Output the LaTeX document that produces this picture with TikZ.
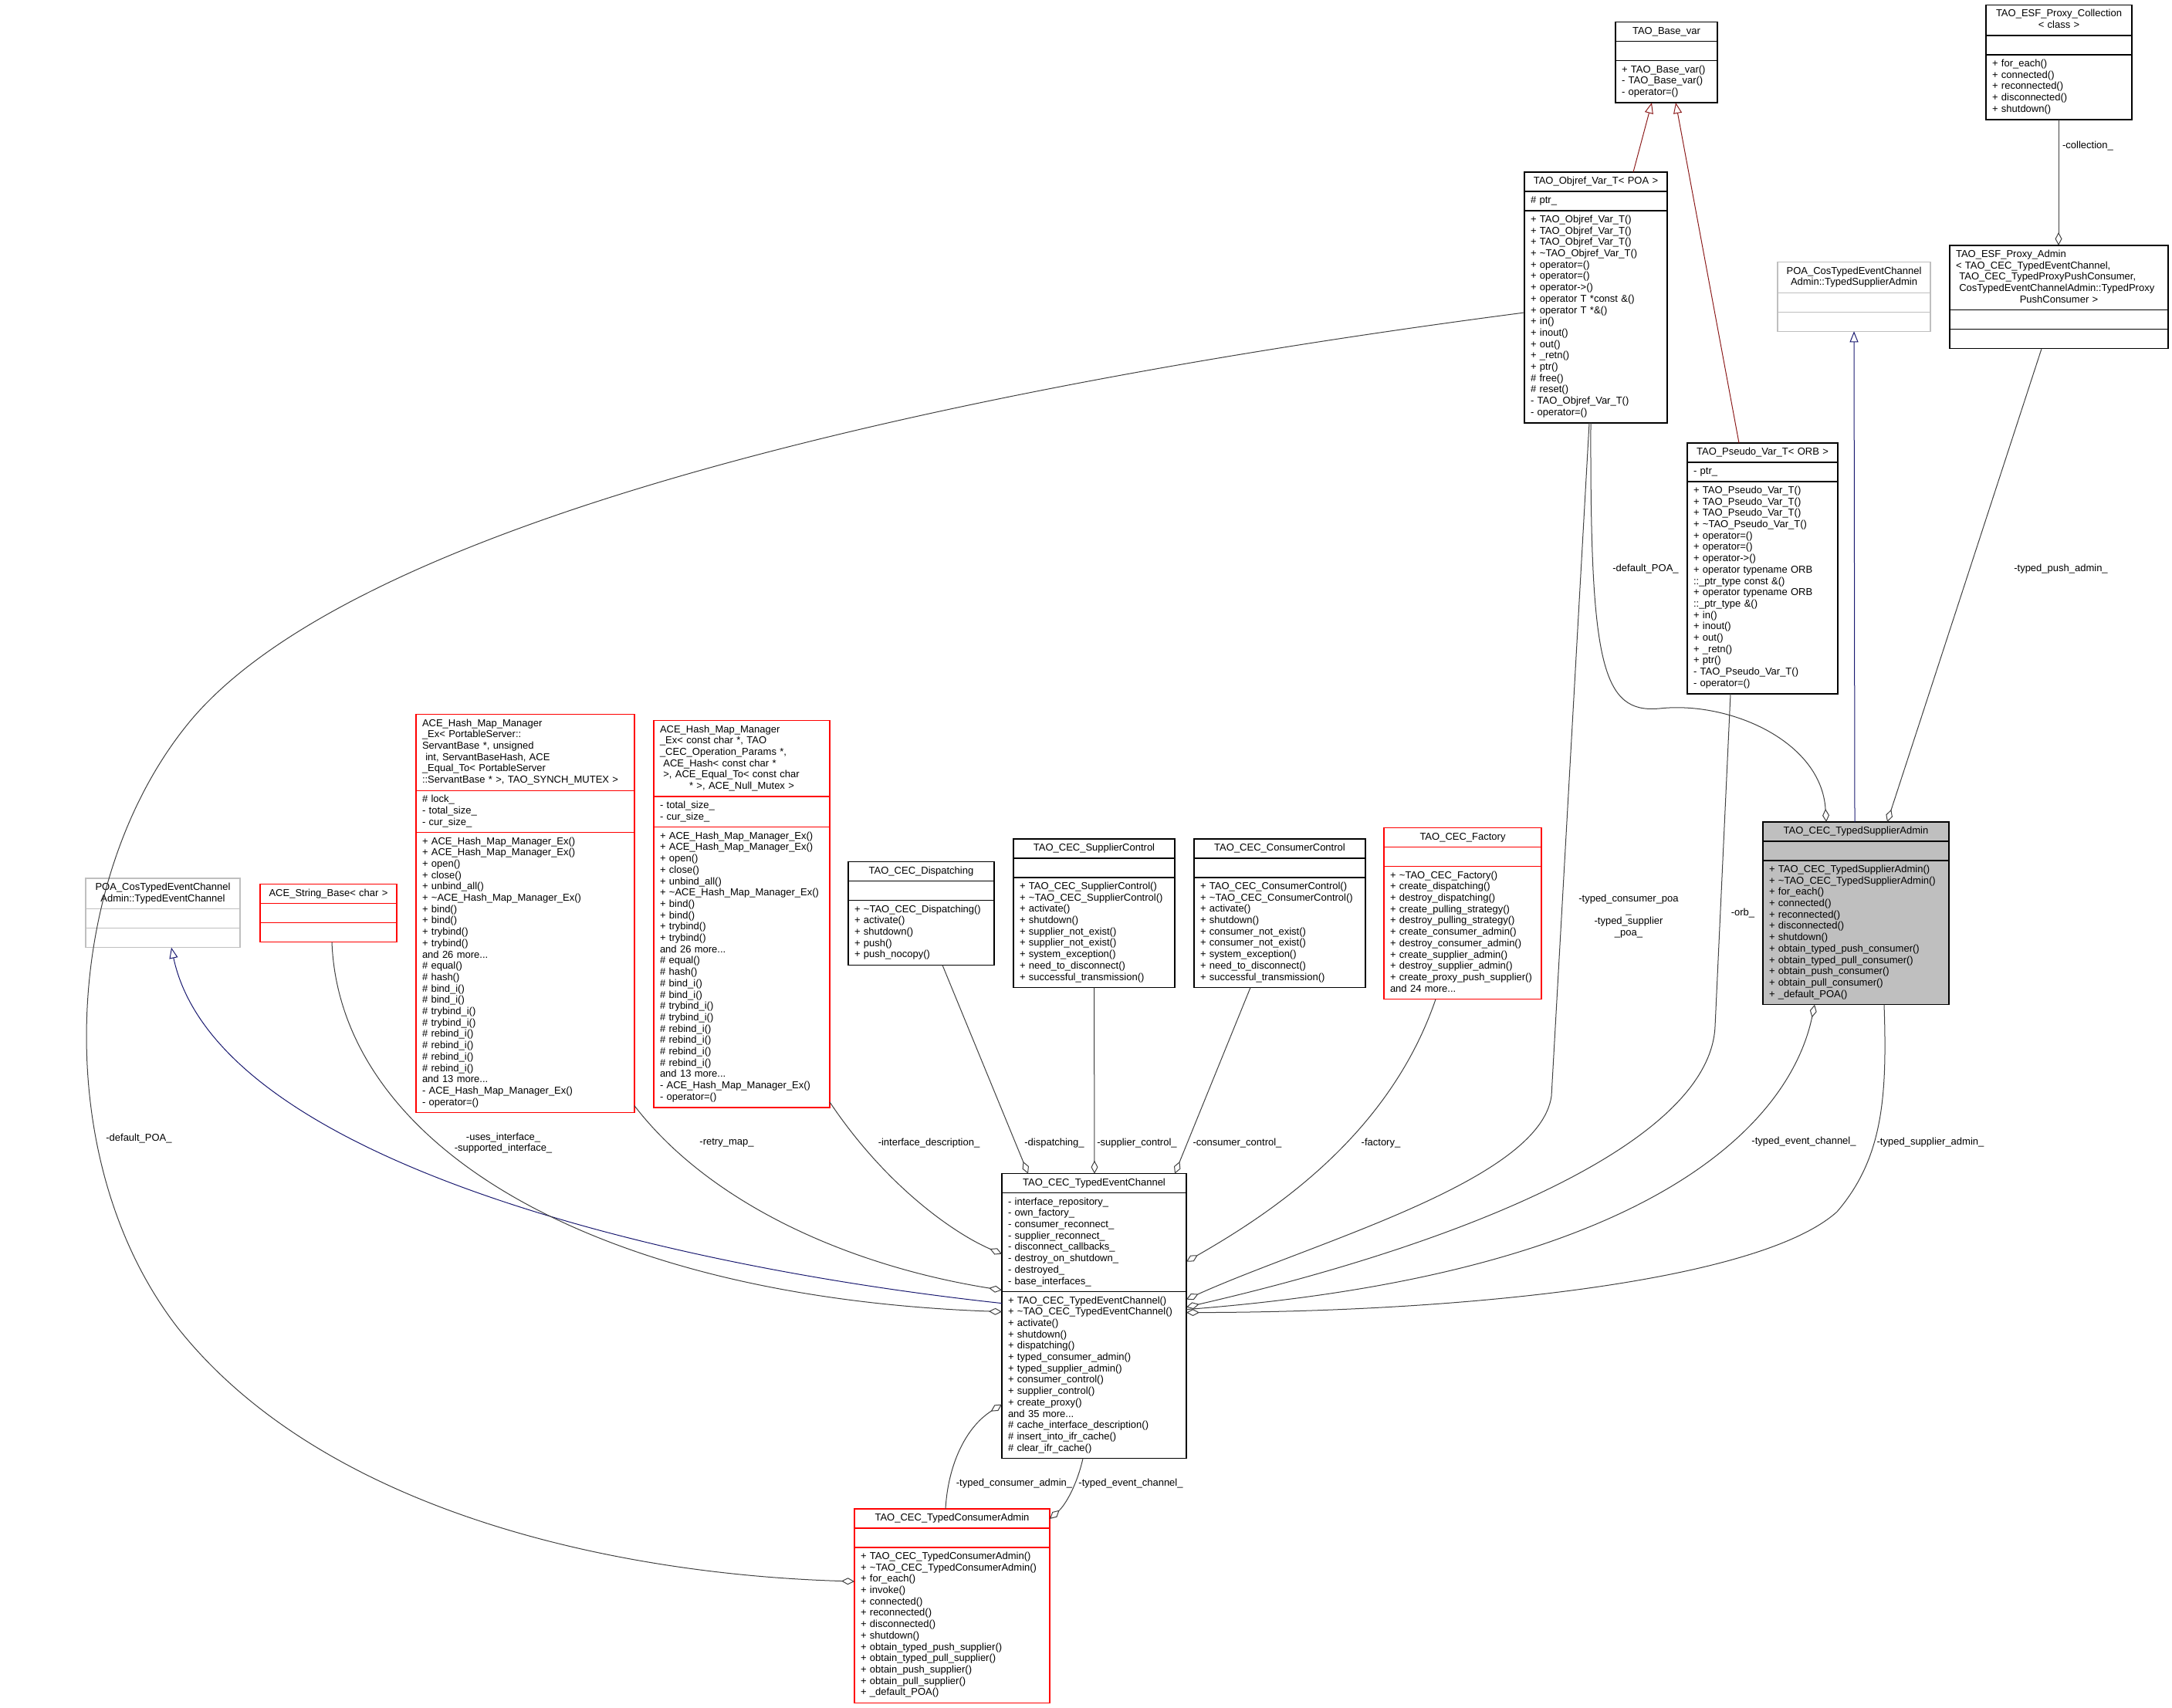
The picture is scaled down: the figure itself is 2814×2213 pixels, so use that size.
\documentclass[tikz,border=0pt]{standalone}
\usepackage{fontspec}
\setmainfont{Liberation Sans}
\usetikzlibrary{arrows.meta,calc}
\definecolor{edgegray}{HTML}{404040}
\definecolor{boxgray}{HTML}{BFBFBF}
\definecolor{inhblue}{HTML}{191970}
\definecolor{inhred}{HTML}{8B1A1A}
\begin{document}
\begin{tikzpicture}[x=1pt, y=-1pt, font=\fontsize{13}{14.7}\selectfont]
    \tikzset{%
      cpart/.style={draw, line width=1.3pt, anchor=north west, outer sep=0pt, inner xsep=8pt, inner ysep=5.15pt,
        align=left, execute at begin node=\strut, execute at end node=\strut},
      ctitle/.style={cpart, align=center},
      redbox/.style={draw=red},
      graybox/.style={draw=boxgray},
      agg/.style={draw=edgegray, line width=1pt, {Diamond[open, length=17pt, width=9pt]}-},
      pubinh/.style={draw=inhblue, line width=1pt, -{Triangle[open, length=14pt, width=11pt]}},
      privinh/.style={draw=inhred, line width=1pt, -{Triangle[open, length=14pt, width=11pt]}},
      lbl/.style={align=center, inner sep=0pt}
      }
    \useasboundingbox (0,0) rectangle (2814,2213);

    % top right
    \node [ctitle, text width=116pt] (Tbase) at (2093,28.6) {TAO\_Base\_var};
    \node [cpart, text width=116pt] (Abase) at (Tbase.south west) {};
    \node [cpart, text width=116pt] (Mbase) at (Abase.south west) {+ TAO\_Base\_var()\\- TAO\_Base\_var()\\- operator=()};

    \node [ctitle, text width=173pt] (Tcoll) at (2573,6.4) {TAO\_ESF\_Proxy\_Collection\\< class >};
    \node [cpart, text width=173pt] (Acoll) at (Tcoll.south west) {};
    \node [cpart, text width=173pt] (Mcoll) at (Acoll.south west) {+ for\_each()\\+ connected()\\+ reconnected()\\+ disconnected()\\+ shutdown()};

    \node [ctitle, text width=169pt] (Tobjref) at (1975,223) {TAO\_Objref\_Var\_T< POA >};
    \node [cpart, text width=169pt] (Aobjref) at (Tobjref.south west) {\# ptr\_};
    \node [cpart, text width=169pt] (Mobjref) at (Aobjref.south west) {+ TAO\_Objref\_Var\_T()\\+ TAO\_Objref\_Var\_T()\\+ TAO\_Objref\_Var\_T()\\+ \textasciitilde TAO\_Objref\_Var\_T()\\+ operator=()\\+ operator=()\\+ operator->()\\+ operator T *const \&()\\+ operator T *\&()\\+ in()\\+ inout()\\+ out()\\+ \_retn()\\+ ptr()\\\# free()\\\# reset()\\- TAO\_Objref\_Var\_T()\\- operator=()};

    \node [ctitle, graybox, text width=182pt] (Tpoatsa) at (2303,339.6) {POA\_CosTypedEventChannel\\Admin::TypedSupplierAdmin};
    \node [cpart, graybox, text width=182pt] (Apoatsa) at (Tpoatsa.south west) {};
    \node [cpart, graybox, text width=182pt] (Mpoatsa) at (Apoatsa.south west) {};

    \node [cpart, text width=267pt] (Tproxyadmin) at (2526,318) {TAO\_ESF\_Proxy\_Admin\\< TAO\_CEC\_TypedEventChannel,\\\ TAO\_CEC\_TypedProxyPushConsumer,\\\ CosTypedEventChannelAdmin::TypedProxy\\\makebox[\linewidth][c]{PushConsumer >}};
    \node [cpart, text width=267pt] (Aproxyadmin) at (Tproxyadmin.south west) {};
    \node [cpart, text width=267pt] (Mproxyadmin) at (Aproxyadmin.south west) {};

    \node [ctitle, text width=179pt] (Tpseudo) at (2186,574) {TAO\_Pseudo\_Var\_T< ORB >};
    \node [cpart, text width=179pt] (Apseudo) at (Tpseudo.south west) {- ptr\_};
    \node [cpart, text width=179pt] (Mpseudo) at (Apseudo.south west) {+ TAO\_Pseudo\_Var\_T()\\+ TAO\_Pseudo\_Var\_T()\\+ TAO\_Pseudo\_Var\_T()\\+ \textasciitilde TAO\_Pseudo\_Var\_T()\\+ operator=()\\+ operator=()\\+ operator->()\\+ operator typename ORB\\::\_ptr\_type const \&()\\+ operator typename ORB\\::\_ptr\_type \&()\\+ in()\\+ inout()\\+ out()\\+ \_retn()\\+ ptr()\\- TAO\_Pseudo\_Var\_T()\\- operator=()};

    \node [ctitle, fill=boxgray, text width=225pt] (Ttsa) at (2284,1065) {TAO\_CEC\_TypedSupplierAdmin};
    \node [cpart, fill=boxgray, text width=225pt] (Atsa) at (Ttsa.south west) {};
    \node [cpart, fill=boxgray, text width=225pt] (Mtsa) at (Atsa.south west) {+ TAO\_CEC\_TypedSupplierAdmin()\\+ \textasciitilde TAO\_CEC\_TypedSupplierAdmin()\\+ for\_each()\\+ connected()\\+ reconnected()\\+ disconnected()\\+ shutdown()\\+ obtain\_typed\_push\_consumer()\\+ obtain\_typed\_pull\_consumer()\\+ obtain\_push\_consumer()\\+ obtain\_pull\_consumer()\\+ \_default\_POA()};

    % middle row
    \node [cpart, redbox, text width=267pt] (Taceleft) at (539,925.7) {ACE\_Hash\_Map\_Manager\\\_Ex< PortableServer::\\ServantBase *, unsigned\\\ int, ServantBaseHash, ACE\\\_Equal\_To< PortableServer\\::ServantBase * >, TAO\_SYNCH\_MUTEX >};
    \node [cpart, redbox, text width=267pt] (Aaceleft) at (Taceleft.south west) {\# lock\_\\- total\_size\_\\- cur\_size\_};
    \node [cpart, redbox, text width=267pt] (Maceleft) at (Aaceleft.south west) {+ ACE\_Hash\_Map\_Manager\_Ex()\\+ ACE\_Hash\_Map\_Manager\_Ex()\\+ open()\\+ close()\\+ unbind\_all()\\+ \textasciitilde ACE\_Hash\_Map\_Manager\_Ex()\\+ bind()\\+ bind()\\+ trybind()\\+ trybind()\\and 26 more...\\\# equal()\\\# hash()\\\# bind\_i()\\\# bind\_i()\\\# trybind\_i()\\\# trybind\_i()\\\# rebind\_i()\\\# rebind\_i()\\\# rebind\_i()\\\# rebind\_i()\\and 13 more...\\- ACE\_Hash\_Map\_Manager\_Ex()\\- operator=()};

    \node [cpart, redbox, text width=212pt] (Taceright) at (847,933.6) {ACE\_Hash\_Map\_Manager\\\_Ex< const char *, TAO\\\_CEC\_Operation\_Params *,\\\ ACE\_Hash< const char *\\\ >, ACE\_Equal\_To< const char\\\makebox[\linewidth][c]{* >, ACE\_Null\_Mutex >}};
    \node [cpart, redbox, text width=212pt] (Aaceright) at (Taceright.south west) {- total\_size\_\\- cur\_size\_};
    \node [cpart, redbox, text width=212pt] (Maceright) at (Aaceright.south west) {+ ACE\_Hash\_Map\_Manager\_Ex()\\+ ACE\_Hash\_Map\_Manager\_Ex()\\+ open()\\+ close()\\+ unbind\_all()\\+ \textasciitilde ACE\_Hash\_Map\_Manager\_Ex()\\+ bind()\\+ bind()\\+ trybind()\\+ trybind()\\and 26 more...\\\# equal()\\\# hash()\\\# bind\_i()\\\# bind\_i()\\\# trybind\_i()\\\# trybind\_i()\\\# rebind\_i()\\\# rebind\_i()\\\# rebind\_i()\\\# rebind\_i()\\and 13 more...\\- ACE\_Hash\_Map\_Manager\_Ex()\\- operator=()};

    \node [ctitle, text width=173pt] (Tdisp) at (1099,1116.7) {TAO\_CEC\_Dispatching};
    \node [cpart, text width=173pt] (Adisp) at (Tdisp.south west) {};
    \node [cpart, text width=173pt] (Mdisp) at (Adisp.south west) {+ \textasciitilde TAO\_CEC\_Dispatching()\\+ activate()\\+ shutdown()\\+ push()\\+ push\_nocopy()};

    \node [ctitle, text width=193pt] (Tsupctl) at (1313,1087) {TAO\_CEC\_SupplierControl};
    \node [cpart, text width=193pt] (Asupctl) at (Tsupctl.south west) {};
    \node [cpart, text width=193pt] (Msupctl) at (Asupctl.south west) {+ TAO\_CEC\_SupplierControl()\\+ \textasciitilde TAO\_CEC\_SupplierControl()\\+ activate()\\+ shutdown()\\+ supplier\_not\_exist()\\+ supplier\_not\_exist()\\+ system\_exception()\\+ need\_to\_disconnect()\\+ successful\_transmission()};

    \node [ctitle, text width=206pt] (Tconctl) at (1547,1087) {TAO\_CEC\_ConsumerControl};
    \node [cpart, text width=206pt] (Aconctl) at (Tconctl.south west) {};
    \node [cpart, text width=206pt] (Mconctl) at (Aconctl.south west) {+ TAO\_CEC\_ConsumerControl()\\+ \textasciitilde TAO\_CEC\_ConsumerControl()\\+ activate()\\+ shutdown()\\+ consumer\_not\_exist()\\+ consumer\_not\_exist()\\+ system\_exception()\\+ need\_to\_disconnect()\\+ successful\_transmission()};

    \node [ctitle, redbox, text width=188pt] (Tfactory) at (1793,1072.7) {TAO\_CEC\_Factory};
    \node [cpart, redbox, text width=188pt] (Afactory) at (Tfactory.south west) {};
    \node [cpart, redbox, text width=188pt] (Mfactory) at (Afactory.south west) {+ \textasciitilde TAO\_CEC\_Factory()\\+ create\_dispatching()\\+ destroy\_dispatching()\\+ create\_pulling\_strategy()\\+ destroy\_pulling\_strategy()\\+ create\_consumer\_admin()\\+ destroy\_consumer\_admin()\\+ create\_supplier\_admin()\\+ destroy\_supplier\_admin()\\+ create\_proxy\_push\_supplier()\\and 24 more...};

    \node [ctitle, graybox, text width=184pt] (Tpoatec) at (111,1138) {POA\_CosTypedEventChannel\\Admin::TypedEventChannel};
    \node [cpart, graybox, text width=184pt] (Apoatec) at (Tpoatec.south west) {};
    \node [cpart, graybox, text width=184pt] (Mpoatec) at (Apoatec.south west) {};

    \node [ctitle, redbox, text width=161pt] (Tstrbase) at (337,1145.7) {ACE\_String\_Base< char >};
    \node [cpart, redbox, text width=161pt] (Astrbase) at (Tstrbase.south west) {};
    \node [cpart, redbox, text width=161pt] (Mstrbase) at (Astrbase.south west) {};

    % bottom
    \node [ctitle, text width=223pt] (Ttec) at (1298,1520.7) {TAO\_CEC\_TypedEventChannel};
    \node [cpart, text width=223pt] (Atec) at (Ttec.south west) {- interface\_repository\_\\- own\_factory\_\\- consumer\_reconnect\_\\- supplier\_reconnect\_\\- disconnect\_callbacks\_\\- destroy\_on\_shutdown\_\\- destroyed\_\\- base\_interfaces\_};
    \node [cpart, text width=223pt] (Mtec) at (Atec.south west) {+ TAO\_CEC\_TypedEventChannel()\\+ \textasciitilde TAO\_CEC\_TypedEventChannel()\\+ activate()\\+ shutdown()\\+ dispatching()\\+ typed\_consumer\_admin()\\+ typed\_supplier\_admin()\\+ consumer\_control()\\+ supplier\_control()\\+ create\_proxy()\\and 35 more...\\\# cache\_interface\_description()\\\# insert\_into\_ifr\_cache()\\\# clear\_ifr\_cache()};

    \node [ctitle, redbox, text width=237pt] (Ttca) at (1107,1955) {TAO\_CEC\_TypedConsumerAdmin};
    \node [cpart, redbox, text width=237pt] (Atca) at (Ttca.south west) {};
    \node [cpart, redbox, text width=237pt] (Mtca) at (Atca.south west) {+ TAO\_CEC\_TypedConsumerAdmin()\\+ \textasciitilde TAO\_CEC\_TypedConsumerAdmin()\\+ for\_each()\\+ invoke()\\+ connected()\\+ reconnected()\\+ disconnected()\\+ shutdown()\\+ obtain\_typed\_push\_supplier()\\+ obtain\_typed\_pull\_supplier()\\+ obtain\_push\_supplier()\\+ obtain\_pull\_supplier()\\+ \_default\_POA()};

    % inheritance
    \draw [privinh] ($(Tobjref.north west)+(141,0)$) -- ($(Mbase.south west)+(47,0)$);
    \draw [privinh] ($(Tpseudo.north west)+(67,0)$) -- ($(Mbase.south west)+(78,0)$);
    \draw [pubinh] ($(Ttsa.north west)+(119,0)$) -- ($(Mpoatsa.south west)+(99,0)$);
    \draw [pubinh] ($(Mtec.north west)+(0,15)$) .. controls (850,1640) and (280,1500) .. ($(Mpoatec.south west)+(111,0)$);

    % members
    \draw [agg] ($(Tproxyadmin.north west)+(141,0)$) -- ($(Mcoll.south west)+(94,0)$);
    \node [lbl] (Lcoll) at (2705,189) {-collection\_};
    \draw [agg] ($(Ttsa.north west)+(161,0)$) -- ($(Mproxyadmin.south west)+(119,0)$);
    \node [lbl] (Lpushadmin) at (2670,737) {-typed\_push\_admin\_};
    \draw [agg] ($(Ttsa.north west)+(82,0)$) .. controls (2360,960) and (2240,908) .. (2150,918)
      .. controls (2075,925) and (2060,860) .. ($(Mobjref.south west)+(86,0)$);
    \node [lbl] (Lpoasup) at (2132,737) {-default\_POA\_};
    \draw [agg] ($(Mtec.north east)+(0,10)$) .. controls (1700,1610) and (1995,1530) .. (2010,1420)
      -- ($(Mobjref.south west)+(84,0)$);
    \node [lbl] (Lpoas) at (2110,1187) {-typed\_consumer\_poa\\\_\\-typed\_supplier\\\_poa\_};
    \draw [agg] ($(Mtec.north east)+(0,20)$) .. controls (1900,1610) and (2215,1480) .. (2222,1330)
      -- ($(Mpseudo.south west)+(56,0)$);
    \node [lbl] (Lorb) at (2258,1183) {-orb\_};
    \draw [agg] ($(Mtsa.south west)+(67,0)$) .. controls (2320,1450) and (2150,1650) .. ($(Mtec.north east)+(0,23)$);
    \node [lbl] (Lchan) at (2337,1479) {-typed\_event\_channel\_};
    \draw [agg] ($(Mtec.north east)+(0,27)$) .. controls (1900,1700) and (2280,1660) .. (2380,1570)
      .. controls (2440,1500) and (2445,1420) .. ($(Mtsa.south west)+(157,0)$);
    \node [lbl] (Lsupadmin) at (2501,1480) {-typed\_supplier\_admin\_};
    \draw [agg] ($(Atec.north east)+(0,89)$) .. controls (1650,1570) and (1800,1470) .. ($(Mfactory.south west)+(67,0)$);
    \node [lbl] (Lfactory) at (1789,1481) {-factory\_};
    \draw [agg] ($(Ttec.north west)+(224,0)$) -- ($(Mconctl.south west)+(73,0)$);
    \node [lbl] (Lconctl) at (1603,1481) {-consumer\_control\_};
    \draw [agg] ($(Ttec.north west)+(120,0)$) -- ($(Msupctl.south west)+(104.5,0)$);
    \node [lbl] (Lsupctl) at (1473,1481) {-supplier\_control\_};
    \draw [agg] ($(Ttec.north west)+(34,0)$) -- ($(Mdisp.south west)+(122,0)$);
    \node [lbl] (Ldisp) at (1366,1481) {-dispatching\_};
    \draw [agg] ($(Atec.north west)+(0,79)$) .. controls (1240,1600) and (1150,1540) .. ($(Maceright.south east)+(0,-7)$);
    \node [lbl] (Ldescr) at (1203.5,1481) {-interface\_description\_};
    \draw [agg] ($(Atec.south west)+(0,-2)$) .. controls (1100,1640) and (920,1560) .. ($(Maceleft.south east)+(0,-9)$);
    \node [lbl] (Lretry) at (941.5,1481) {-retry\_map\_};
    \draw [agg] ($(Mtec.north west)+(0,26)$) .. controls (760,1680) and (440,1480) .. ($(Mstrbase.south west)+(93,0)$);
    \node [lbl] (Linterface) at (652,1481) {-uses\_interface\_\\-supported\_interface\_};
    \draw [agg] ($(Mtca.north west)+(0,44)$) .. controls (800,2040) and (420,1960) .. (230,1720)
      .. controls (60,1500) and (80,1130) .. (250,930)
      .. controls (500,640) and (1400,480) .. ($(Mobjref.north west)+(0,132)$);
    \node [lbl] (Lpoacon) at (180,1475) {-default\_POA\_};
    \draw [agg] ($(Mtec.north west)+(0,146)$) .. controls (1250,1850) and (1228,1900) .. ($(Ttca.north west)+(118,0)$);
    \node [lbl] (Lconadmin) at (1314,1922) {-typed\_consumer\_admin\_};
    \draw [agg] ($(Ttca.north east)+(0,13)$) .. controls (1380,1950) and (1395,1925) .. ($(Mtec.south west)+(105,0)$);
    \node [lbl] (Lchanb) at (1465,1922) {-typed\_event\_channel\_};

  \end{tikzpicture}
\end{document}
